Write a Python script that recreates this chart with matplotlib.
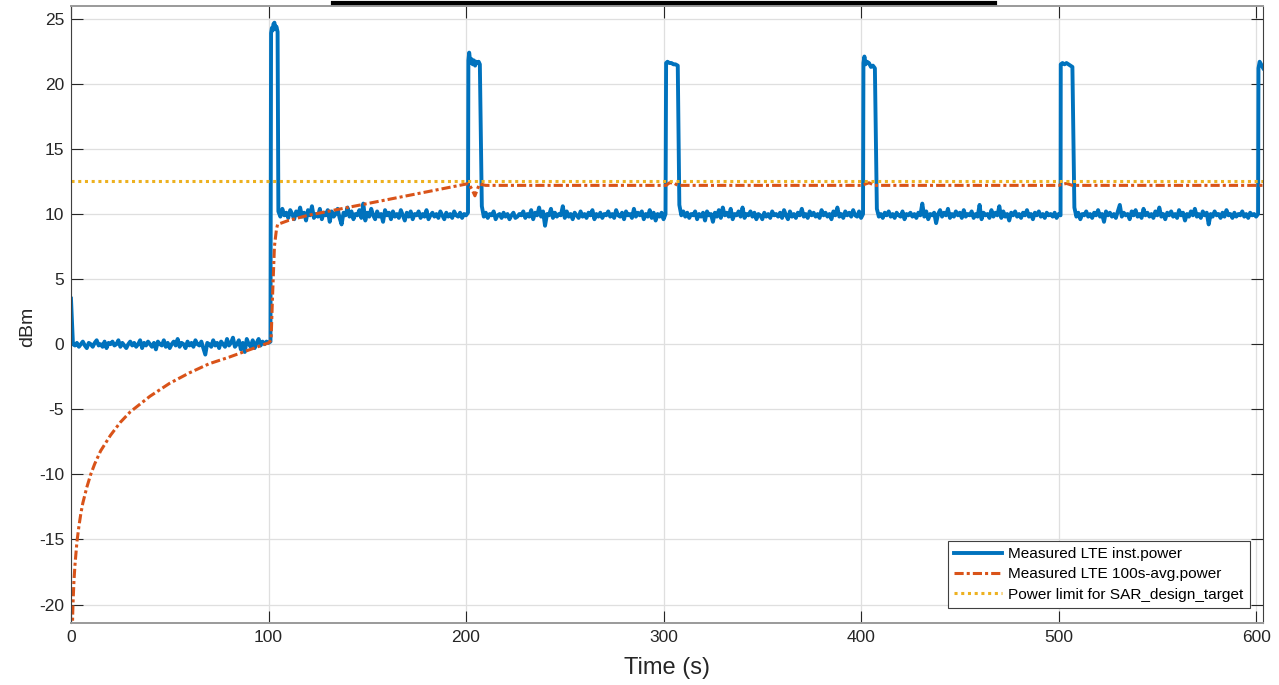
import matplotlib.pyplot as plt
import numpy as np
from matplotlib.lines import Line2D

plt.rcParams["font.family"] = ["Liberation Sans", "DejaVu Sans"]
plt.rcParams["axes.unicode_minus"] = False

# instantaneous power, 1 s samples before the first burst (t = 0..101)
low_dbm = [
    3.5,
    0.0, -0.1, 0.1, -0.2, 0.0, 0.2, -0.1, -0.3, 0.1, 0.0, -0.2, 0.1, 0.3, -0.1, 0.0, -0.2, 0.2, -0.3, 0.1, 0.0,
    0.2, -0.1, 0.0, 0.3, -0.2, 0.1, -0.1, -0.3, 0.0, 0.2, -0.1, 0.1, -0.2, 0.0, 0.3, -0.3, 0.1, -0.1, 0.2, 0.0,
    -0.2, 0.1, -0.4, 0.2, 0.0, -0.1, 0.3, -0.2, 0.1, -0.3, 0.0, 0.2, -0.1, 0.4, -0.2, 0.1, 0.0, -0.3, 0.2, -0.1,
    0.1, -0.2, 0.3, 0.0, -0.1, 0.2, -0.3, -0.8, 0.1, 0.0, -0.2, 0.3, -0.1, 0.1, -0.3, 0.2, 0.0, -0.2, 0.4, -0.1,
    0.1, 0.5, -0.2, 0.0, 0.3, -0.4, 0.1, -0.6, 0.4, 0.0, -0.2, 0.3, -0.3, 0.1, 0.4, -0.1, 0.2, 0.0, 0.2, 0.1,
    0.2,
]
low_start = 0

# bursts (times in s, levels in dBm)
burst_t = [
    [101.3, 101.7, 102.1, 102.5, 103.0, 103.5, 104.0, 104.6],
    [201.2, 201.6, 202.2, 202.8, 203.4, 204.0, 204.6, 205.2, 205.8, 206.4, 207.0],
    [301.3, 302.0, 303.0, 304.0, 305.0, 306.0, 307.2],
    [401.2, 401.7, 402.3, 403.0, 404.0, 405.0, 406.0, 407.0],
    [501.1, 502.0, 503.0, 504.0, 505.0, 506.0, 507.0],
    [601.2, 601.8, 602.5, 603.6],
]
burst_dbm = [
    [23.9, 24.3, 24.1, 24.6, 24.7, 24.2, 24.4, 24.0],
    [21.8, 22.4, 21.6, 21.9, 21.5, 21.8, 21.4, 21.7, 21.6, 21.7, 21.5],
    [21.6, 21.7, 21.6, 21.6, 21.5, 21.5, 21.4],
    [21.6, 22.1, 21.5, 21.7, 21.6, 21.3, 21.4, 21.2],
    [21.5, 21.6, 21.5, 21.6, 21.5, 21.4, 21.3],
    [21.2, 21.7, 21.5, 21.2],
]

# 1 s samples between bursts
hi_start = [105, 208, 308, 408, 508]
hi1 = [
    10.2, 9.8, 10.4, 9.9, 10.1, 9.7, 10.3, 10.0, 9.6, 10.2,
    9.9, 10.5, 9.8, 10.1, 9.5, 10.3, 9.9, 10.6, 9.7, 10.0,
    9.8, 10.4, 9.6, 10.1, 9.9, 10.3, 9.4, 10.2, 9.8, 10.0,
    10.4, 9.7, 9.2, 10.1, 9.9, 10.5, 9.8, 10.2, 9.6, 10.0,
    9.9, 10.3, 9.7, 10.8, 9.5, 10.1, 9.8, 10.4, 9.9, 9.6,
    10.2, 9.8, 10.0, 9.4, 10.3, 9.9, 10.1, 9.6, 10.2, 9.8,
    10.0, 9.7, 10.3, 9.9, 9.5, 10.1, 9.8, 10.2, 9.6, 10.0,
    9.9, 10.2, 9.7, 10.0, 9.8, 10.3, 9.6, 9.9, 10.1, 9.8,
    10.0, 9.7, 10.2, 9.9, 9.6, 10.1, 9.8, 10.0, 9.7, 10.2,
    9.9, 9.8, 10.1, 9.7, 10.0, 9.9, 10.1,
]
hi2 = [
    10.6, 9.8, 10.1, 9.7, 10.0, 9.9, 10.2, 9.6, 9.9, 10.0,
    9.7, 10.1, 9.8, 10.0, 9.6, 9.9, 10.1, 9.7, 9.8, 10.0,
    9.9, 10.2, 9.7, 10.0, 9.8, 10.3, 9.6, 10.1, 9.9, 10.5,
    9.8, 10.2, 9.1, 10.0, 9.9, 10.4, 9.7, 10.1, 9.8, 10.0,
    9.9, 10.6, 9.7, 10.2, 9.8, 10.0, 9.6, 10.1, 9.9, 9.7,
    10.2, 9.8, 10.0, 9.7, 10.1, 9.9, 10.3, 9.6, 10.0, 9.8,
    10.1, 9.7, 10.0, 9.9, 10.2, 9.8, 10.0, 9.7, 10.3, 9.9,
    9.8, 10.1, 9.6, 10.2, 9.9, 10.0, 9.7, 10.4, 9.8, 10.1,
    9.9, 10.2, 9.6, 10.0, 9.8, 10.3, 9.7, 10.1, 9.5, 10.0,
    9.8, 10.1, 9.6, 10.0,
]
hi3 = [
    10.7, 9.9, 10.2, 9.8, 10.1, 9.7, 10.0, 9.9, 10.2, 9.6,
    10.0, 9.8, 10.1, 9.5, 10.2, 9.9, 10.0, 9.4, 10.1, 9.8,
    10.3, 9.7, 10.5, 9.9, 10.1, 9.8, 10.4, 9.6, 10.0, 9.9,
    10.2, 9.8, 10.5, 9.7, 10.0, 9.9, 10.2, 9.8, 10.1, 9.6,
    10.0, 9.9, 9.6, 10.1, 9.8, 10.0, 9.7, 10.2, 9.9, 10.0,
    9.8, 10.1, 9.7, 10.3, 9.9, 9.6, 10.2, 9.8, 10.0, 9.7,
    10.1, 9.9, 10.4, 9.8, 10.0, 9.7, 10.2, 9.9, 10.1, 9.8,
    10.0, 9.7, 10.3, 9.9, 10.1, 9.8, 10.0, 9.6, 10.2, 9.9,
    10.5, 9.8, 10.0, 9.7, 10.2, 9.9, 10.1, 9.8, 10.3, 9.9,
    9.8, 10.2, 9.7, 10.0,
]
hi4 = [
    10.4, 9.8, 10.0, 9.7, 10.1, 9.9, 10.2, 9.8, 10.0, 9.7,
    10.1, 9.9, 9.8, 10.2, 9.6, 10.0, 9.9, 10.1, 9.8, 10.0,
    9.7, 10.1, 9.9, 10.8, 9.8, 10.2, 9.6, 10.0, 9.9, 10.1,
    9.3, 10.0, 10.3, 9.8, 10.1, 9.9, 10.4, 9.7, 10.0, 9.8,
    10.2, 9.9, 10.1, 9.7, 10.3, 9.8, 10.0, 9.9, 10.2, 9.7,
    10.0, 9.8, 10.7, 9.6, 10.1, 9.9, 10.0, 9.7, 10.3, 9.8,
    10.1, 9.9, 10.6, 9.7, 10.2, 9.8, 10.0, 9.5, 10.1, 9.9,
    10.2, 9.8, 10.0, 9.7, 10.1, 9.9, 10.3, 9.8, 10.0, 9.6,
    10.1, 9.9, 10.2, 9.8, 10.0, 9.7, 10.1, 9.9, 10.0, 9.8,
    10.1, 9.7, 10.0, 9.9,
]
hi5 = [
    10.5, 9.8, 10.1, 9.6, 10.0, 9.9, 10.2, 9.8, 10.0, 9.7,
    10.1, 9.9, 10.3, 9.8, 10.0, 9.4, 10.2, 9.9, 10.1, 9.8,
    10.0, 9.7, 10.2, 10.7, 9.8, 10.1, 9.9, 10.0, 9.6, 10.2,
    9.9, 10.3, 9.8, 10.0, 9.7, 10.4, 9.9, 10.1, 9.8, 10.0,
    9.7, 10.2, 9.9, 10.5, 9.8, 10.0, 9.6, 10.1, 9.9, 10.2,
    9.8, 10.0, 9.7, 10.3, 9.9, 10.1, 9.5, 10.0, 9.8, 10.2,
    9.9, 10.4, 9.8, 10.0, 9.7, 10.2, 9.9, 10.1, 9.2, 10.0,
    9.8, 10.2, 9.9, 10.0, 9.7, 10.1, 9.8, 10.3, 9.9, 10.0,
    9.7, 10.1, 9.8, 10.0, 9.9, 10.2, 9.8, 10.0, 9.7, 10.1,
    9.9, 10.0, 9.8, 10.0,
]
hi_dbm = [hi1, hi2, hi3, hi4, hi5]

# 100 s average power
avg_t = [0.3, 0.5, 1, 1.5, 2, 3, 4, 5, 6, 8, 10, 12, 15, 20, 25, 30, 35, 40, 50,
         60, 70, 80, 90, 100, 101.3, 102, 103, 104, 104.6, 110, 120, 130, 140,
         150, 160, 170, 180, 190, 200, 201.2, 203.0, 204.5, 205.5, 206.8, 210,
         250, 300, 301.3, 303, 305, 307.2, 350, 400, 401.2, 404, 407, 450, 500,
         501.1, 504, 507, 550, 600, 601.2, 603.6]
avg_dbm = [-25.0, -23.0, -20.0, -18.2, -17.0, -15.2, -14.0, -13.0, -12.2, -11.0,
           -10.0, -9.2, -8.2, -7.0, -6.0, -5.2, -4.6, -4.0, -3.0, -2.2, -1.5,
           -1.0, -0.45, 0.1, 0.3, 3.5, 7.5, 8.8, 9.2, 9.5, 9.9, 10.2, 10.5,
           10.8, 11.1, 11.4, 11.7, 12.0, 12.3, 12.35, 11.9, 11.4, 11.8, 12.3,
           12.2, 12.2, 12.2, 12.2, 12.4, 12.4, 12.2, 12.2, 12.2, 12.25, 12.4,
           12.2, 12.2, 12.2, 12.25, 12.35, 12.2, 12.2, 12.2, 12.2, 12.2]

limit_dbm = 12.5
labels = ["Measured LTE inst.power", "Measured LTE 100s-avg.power",
          "Power limit for SAR_design_target"]

# stitch the instantaneous trace together
inst_t = [low_start + np.arange(len(low_dbm))]
inst_y = [np.array(low_dbm)]
for i in range(len(burst_t)):
    inst_t.append(np.array(burst_t[i]))
    inst_y.append(np.array(burst_dbm[i]))
    if i < len(hi_dbm):
        inst_t.append(hi_start[i] + np.arange(len(hi_dbm[i])))
        inst_y.append(np.array(hi_dbm[i]))
inst_t = np.concatenate(inst_t)
inst_y = np.concatenate(inst_y)

fig = plt.figure(figsize=(12.79, 6.85), dpi=100)
ax = fig.add_axes([0.0555, 0.0909, 0.932, 0.9007])

ax.plot(inst_t, inst_y, color="#0072BD", lw=2.8, label=labels[0])
ax.plot(avg_t, avg_dbm, color="#D95319", lw=2.2, ls=(0, (3, 1, 1, 1)),
        label=labels[1])
ax.axhline(limit_dbm, color="#EDB120", lw=2.2, ls=(0, (1, 1.2)), label=labels[2])

ax.set_xlim(0, 603.5)
ax.set_ylim(-21.4, 26)
ax.set_xticks(np.arange(0, 601, 100))
ax.set_yticks(np.arange(-20, 26, 5))
ax.grid(True, color="#dfdfdf", lw=0.9)
ax.set_axisbelow(True)
ax.tick_params(direction="in", length=8.6, width=0.8, top=True, right=True,
               labelsize=12.5, colors="#262626", pad=5)
for side in ["left", "right"]:
    ax.spines[side].set_color("#404040")
for side in ["top", "bottom"]:
    ax.spines[side].set_color("#9a9a9a")
    ax.spines[side].set_linewidth(1.4)

ax.set_xlabel("Time (s)", fontsize=17, color="#262626", labelpad=9)
ax.set_ylabel("dBm", fontsize=14, color="#262626")
ax.yaxis.set_label_coords(-0.029, 0.48)

leg = ax.legend(loc="lower right", bbox_to_anchor=(0.989, 0.0238),
                borderaxespad=0, fontsize=11.1, fancybox=False, framealpha=1,
                edgecolor="#404040", handlelength=3.1, handletextpad=0.4,
                labelspacing=0.4, borderpad=0.42)
leg.get_frame().set_linewidth(0.8)

# underline of the (cropped) title at the top edge
fig.add_artist(Line2D([333 / 1279, 995 / 1279], [1 - 3 / 685, 1 - 3 / 685],
                      color="black", lw=3.0, transform=fig.transFigure))

fig.savefig("out.png", dpi=100)
